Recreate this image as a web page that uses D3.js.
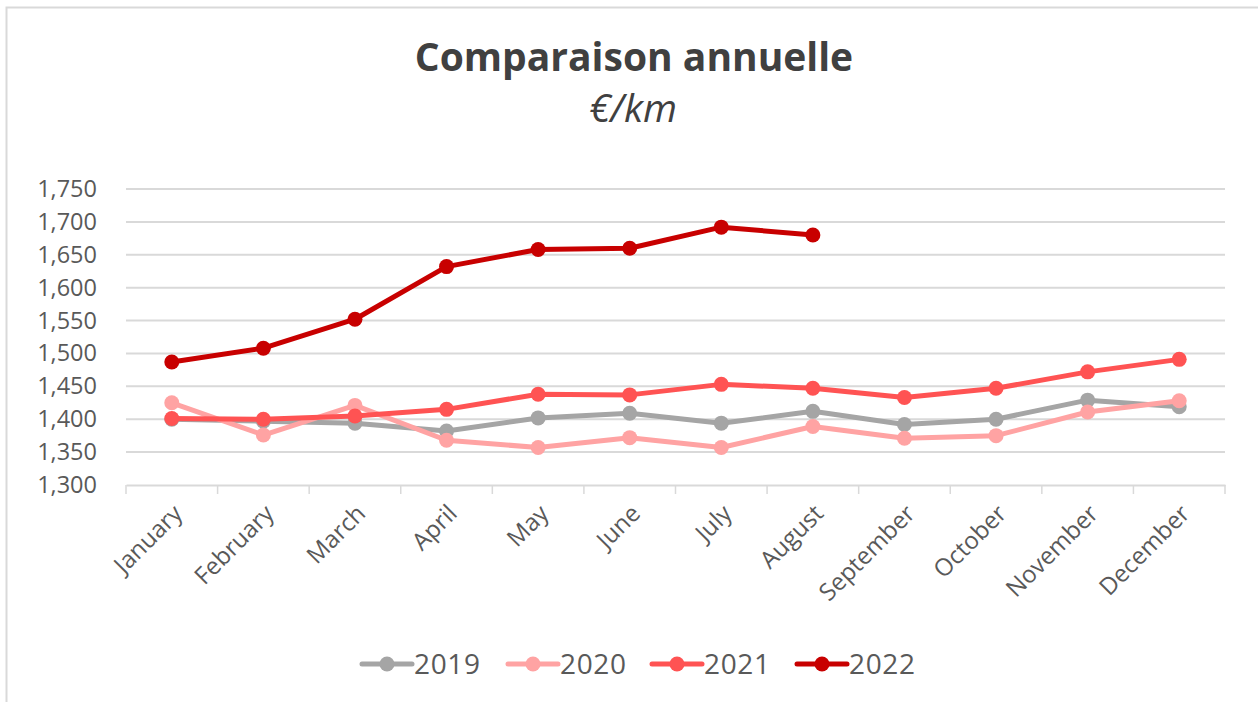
<!DOCTYPE html>
<html>
<head>
<meta charset="utf-8">
<script src="https://cdn.jsdelivr.net/npm/d3@7"></script>
<style>
  body { margin: 0; background: #fff; }
  svg { display: block; font-family: "Open Sans", sans-serif; }
</style>
</head>
<body>
<svg width="1258" height="702"></svg>
<script>
var months = ["January", "February", "March", "April", "May", "June", "July",
  "August", "September", "October", "November", "December"];
var years = ["2019", "2020", "2021", "2022"];
var colors = ["#a5a5a5", "#ffa3a3", "#ff5353", "#c80000"];
var yTicks = [1300, 1350, 1400, 1450, 1500, 1550, 1600, 1650, 1700, 1750];

var v2019 = [1400, 1397, 1394, 1382, 1402, 1409, 1394, 1412, 1392, 1400, 1429, 1419];
var v2020 = [1425, 1376, 1421, 1368, 1357, 1372, 1357, 1389, 1371, 1375, 1411, 1428];
var v2021 = [1401, 1400, 1405, 1415, 1438, 1437, 1453, 1447, 1433, 1447, 1472, 1491];
var v2022 = [1487, 1508, 1552, 1632, 1658, 1660, 1692, 1680];

var series = [v2019, v2020, v2021, v2022];

var svg = d3.select("svg"),
  margin = { top: 189, right: 33, bottom: 217, left: 126 },
  width = +svg.attr("width") - margin.left - margin.right,
  height = +svg.attr("height") - margin.top - margin.bottom;

// frame
svg.append("rect")
  .attr("x", 6.5).attr("y", 7.5)
  .attr("width", 1300).attr("height", 800)
  .attr("fill", "none")
  .attr("stroke", "#d9d9d9")
  .attr("stroke-width", 2);

svg.append("text")
  .attr("x", 634).attr("y", 71)
  .attr("text-anchor", "middle")
  .attr("font-size", 39).attr("font-weight", "bold")
  .attr("fill", "#404040")
  .text("Comparaison annuelle");

svg.append("text")
  .attr("x", 633).attr("y", 122)
  .attr("text-anchor", "middle")
  .attr("font-size", 39).attr("font-style", "italic")
  .attr("fill", "#404040")
  .text("€/km");

var g = svg.append("g").attr("transform", "translate(" + margin.left + "," + margin.top + ")");

var x = d3.scaleBand().domain(months).range([0, width]);
var y = d3.scaleLinear().domain([1300, 1750]).range([height, 0]);

// gridlines
g.append("g")
  .selectAll("line")
  .data(yTicks.slice(1))
  .join("line")
  .attr("x1", 0).attr("x2", width)
  .attr("y1", function(d) { return y(d); })
  .attr("y2", function(d) { return y(d); })
  .attr("stroke", "#d9d9d9")
  .attr("stroke-width", 2);

// y axis labels
var yAxis = g.append("g")
  .attr("transform", "translate(-26,0)")
  .call(d3.axisLeft(y).tickValues(yTicks).tickSize(0).tickFormat(d3.format(",")));
yAxis.select(".domain").remove();
yAxis.selectAll("text")
  .attr("font-size", 23.5)
  .attr("font-family", "Open Sans, sans-serif")
  .attr("fill", "#595959");

// x axis
var xAxis = g.append("g")
  .attr("transform", "translate(0," + height + ")")
  .call(d3.axisBottom(x).tickSize(0));
xAxis.select(".domain").attr("stroke", "#d9d9d9").attr("stroke-width", 2);
xAxis.selectAll(".tick text")
  .attr("font-size", 24)
  .attr("font-family", "Open Sans, sans-serif")
  .attr("fill", "#595959")
  .attr("text-anchor", "end")
  .attr("dy", 0)
  .attr("y", 0)
  .attr("transform", "translate(12,30) rotate(-45)");

// tick marks between categories
g.append("g")
  .selectAll("line")
  .data(months.concat(["end"]))
  .join("line")
  .attr("x1", function(d, i) { return i * x.bandwidth(); })
  .attr("x2", function(d, i) { return i * x.bandwidth(); })
  .attr("y1", height).attr("y2", height + 9)
  .attr("stroke", "#d9d9d9")
  .attr("stroke-width", 1.5);

var line = d3.line()
  .x(function(d, i) { return x(months[i]) + x.bandwidth() / 2; })
  .y(function(d) { return y(d); });

series.forEach(function(s, k) {
  g.append("path")
    .datum(s)
    .attr("fill", "none")
    .attr("stroke", colors[k])
    .attr("stroke-width", 5)
    .attr("stroke-linejoin", "round")
    .attr("stroke-linecap", "round")
    .attr("d", line);
  g.append("g")
    .selectAll("circle")
    .data(s)
    .join("circle")
    .attr("cx", function(d, i) { return x(months[i]) + x.bandwidth() / 2; })
    .attr("cy", function(d) { return y(d); })
    .attr("r", 7.5)
    .attr("fill", colors[k]);
});

// legend
var legendX = [362, 508, 652, 797];
var legend = svg.append("g").attr("transform", "translate(0,664)");
years.forEach(function(yr, k) {
  var lg = legend.append("g").attr("transform", "translate(" + legendX[k] + ",0)");
  lg.append("line")
    .attr("x1", 0).attr("x2", 50)
    .attr("stroke", colors[k]).attr("stroke-width", 5)
    .attr("stroke-linecap", "round");
  lg.append("circle").attr("cx", 25).attr("r", 7.5).attr("fill", colors[k]);
  lg.append("text")
    .attr("x", 52).attr("y", 10)
    .attr("font-size", 28)
    .attr("textLength", 66)
    .attr("fill", "#595959")
    .text(yr);
});
</script>
</body>
</html>
